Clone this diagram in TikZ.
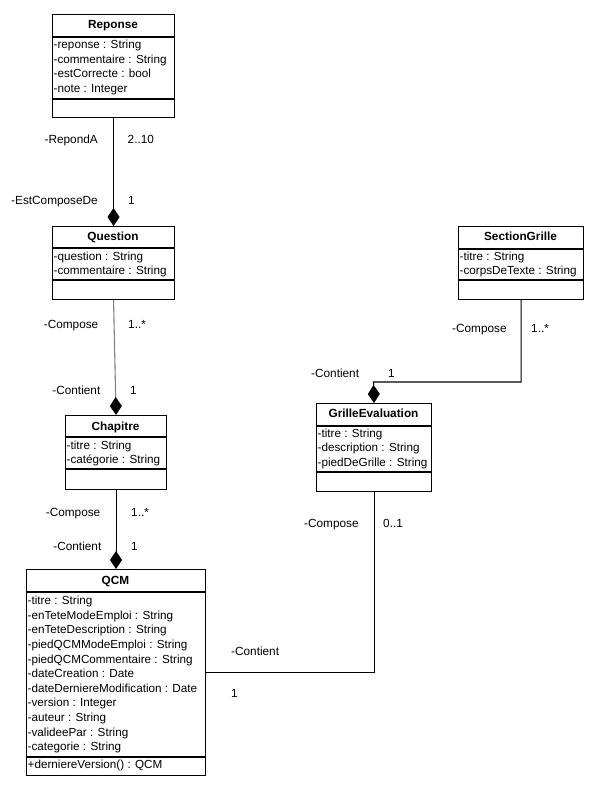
\documentclass[tikz,border=0pt]{standalone}
\usepackage{fontspec}
\setmainfont{Liberation Sans}
\usetikzlibrary{arrows.meta}
\begin{document}
\begin{tikzpicture}[x=1pt,y=-1pt,
  classbox/.style={draw, line width=1.1pt, inner sep=0pt, anchor=north west},
  sepline/.style={line width=1.1pt},
  conn/.style={line width=1.1pt},
  comp/.style={conn, -{Diamond[length=18pt,width=12pt,color=black]}},
  attr/.style={inner sep=0pt, anchor=base west, font=\fontsize{11.7}{14}\selectfont},
  ttl/.style={inner sep=0pt, anchor=base, font=\fontsize{11.8}{14}\selectfont\bfseries},
  lbl/.style={inner sep=0pt, anchor=base west, font=\fontsize{11.8}{14}\selectfont},
  lblr/.style={inner sep=0pt, anchor=base east, font=\fontsize{11.8}{14}\selectfont}]
\useasboundingbox (0,0) rectangle (611,791);
\fill[white] (0,0) rectangle (611,791);

% ---------- Reponse ----------
\node[classbox, minimum width=122pt, minimum height=103pt] (reponse) at (52,14) {};
\draw[sepline] (52,37) -- (174,37);
\draw[sepline] (52,99) -- (174,99);
\node[ttl] (reponse-t) at (113,29) {Reponse};
\foreach \t [count=\i from 0] in {{-reponse : String},{-commentaire : String},{-estCorrecte : bool},{-note : Integer}}
  \node[attr, name=reponse-a\i] at (53.5,48.5+14.75*\i) {\t};

% ---------- Question ----------
\node[classbox, minimum width=122pt, minimum height=73pt] (question) at (52,226) {};
\draw[sepline] (52,248) -- (174,248);
\draw[sepline] (52,280) -- (174,280);
\node[ttl] (question-t) at (113,240.5) {Question};
\foreach \t [count=\i from 0] in {{-question : String},{-commentaire : String}}
  \node[attr, name=question-a\i] at (53.5,260.7+14*\i) {\t};

% ---------- Chapitre ----------
\node[classbox, minimum width=101pt, minimum height=74pt] (chapitre) at (65,415) {};
\draw[sepline] (65,437) -- (166,437);
\draw[sepline] (65,469) -- (166,469);
\node[ttl] (chapitre-t) at (115.5,430) {Chapitre};
\foreach \t [count=\i from 0] in {{-titre : String},{-catégorie : String}}
  \node[attr, name=chapitre-a\i] at (66.5,449.7+14*\i) {\t};

% ---------- QCM ----------
\node[classbox, minimum width=179pt, minimum height=206pt] (qcm) at (26,569) {};
\draw[sepline] (26,592) -- (205,592);
\draw[sepline] (26,757) -- (205,757);
\node[ttl] (qcm-t) at (115.5,584) {QCM};
\foreach \t [count=\i from 0] in {{-titre : String},{-enTeteModeEmploi : String},{-enTeteDescription : String},{-piedQCMModeEmploi : String},{-piedQCMCommentaire : String},{-dateCreation : Date},{-dateDerniereModification : Date},{-version : Integer},{-auteur : String},{-valideePar : String},{-categorie : String}}
  \node[attr, name=qcm-a\i] at (27.5,604.7+14.6*\i) {\t};
\node[attr] (qcm-m0) at (27.5,768) {+derniereVersion() : QCM};

% ---------- GrilleEvaluation ----------
\node[classbox, minimum width=115pt, minimum height=88pt] (grille) at (316,403) {};
\draw[sepline] (316,426) -- (431,426);
\draw[sepline] (316,472) -- (431,472);
\node[ttl] (grille-t) at (373.5,417.3) {GrilleEvaluation};
\foreach \t [count=\i from 0] in {{-titre : String},{-description : String},{-piedDeGrille : String}}
  \node[attr, name=grille-a\i] at (317.5,437.3+14.6*\i) {\t};

% ---------- SectionGrille ----------
\node[classbox, minimum width=125pt, minimum height=73pt] (section) at (458,226) {};
\draw[sepline] (458,249) -- (583,249);
\draw[sepline] (458,280) -- (583,280);
\node[ttl] (section-t) at (520.5,240.5) {SectionGrille};
\foreach \t [count=\i from 0] in {{-titre : String},{-corpsDeTexte : String}}
  \node[attr, name=section-a\i] at (459.5,260.7+14*\i) {\t};

% ---------- connectors ----------
\draw[comp] (reponse.south) -- (question.north);
\draw[comp, draw=black!50] (question.south) -- (chapitre.north);
\draw[comp] (chapitre.south) -- (qcm.north);
\coordinate (gtop) at (373.5,382);
\draw[comp] (section.south) |- (gtop) -- (grille.north);
\draw[conn] (grille.south) |- (qcm.east);

% ---------- labels ----------
\node[lblr] (l1) at (98,144) {-RepondA};
\node[lbl] (l2) at (127.5,144) {2..10};
\node[lblr] (l3) at (98,205) {-EstComposeDe};
\node[lbl] (l4) at (128,205) {1};
\node[lblr] (l5) at (98.5,328) {-Compose};
\node[lbl] (l6) at (128,328) {1..*};
\node[lblr] (l7) at (100.5,394) {-Contient};
\node[lbl] (l8) at (130,394) {1};
\node[lblr] (l9) at (100.5,516) {-Compose};
\node[lbl] (l10) at (131,516) {1..*};
\node[lblr] (l11) at (101.5,550) {-Contient};
\node[lbl] (l12) at (131,550) {1};
\node[lbl] (l13) at (231,655) {-Contient};
\node[lbl] (l14) at (231,697) {1};
\node[lbl] (l15) at (304,527) {-Compose};
\node[lbl] (l16) at (383,527) {0..1};
\node[lbl] (l17) at (452,332) {-Compose};
\node[lbl] (l18) at (531,332) {1..*};
\node[lbl] (l19) at (311,377) {-Contient};
\node[lbl] (l20) at (388,377) {1};
\end{tikzpicture}
\end{document}
